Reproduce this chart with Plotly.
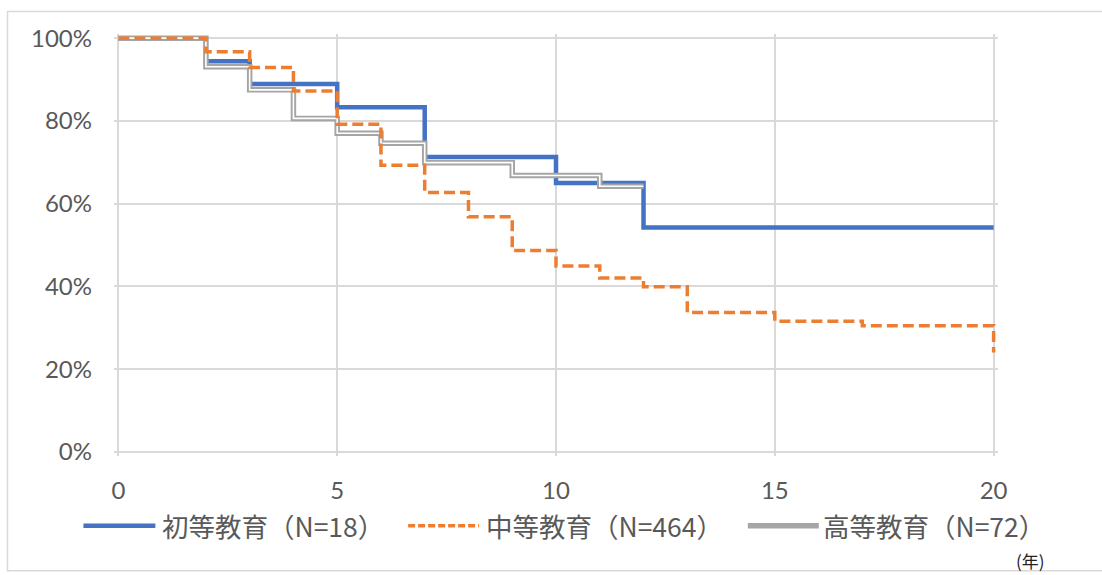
import plotly.graph_objects as go

# Survival curves by education level (step functions, percent)
primary_label = "初等教育（N=18）"
primary_years = [0, 2, 3, 5, 7, 10, 12, 20]
primary_surv = [100, 94.4, 88.9, 83.3, 71.3, 65.0, 54.2, 54.2]

secondary_label = "中等教育（N=464）"
secondary_years = [0, 2, 3, 4, 5, 6, 7, 8, 9, 10, 11, 12, 13, 15, 17, 20]
secondary_surv = [100, 96.7, 92.9, 87.2, 79.2, 69.3, 62.7, 56.8, 48.7, 44.9,
                  42.0, 39.9, 33.7, 31.6, 30.5, 24.0]

higher_label = "高等教育（N=72）"
higher_years = [0, 2, 3, 4, 5, 6, 7, 9, 11, 12]
higher_surv = [100, 93.1, 87.5, 80.6, 77.0, 74.6, 69.9, 66.8, 64.2, 64.2]

x_ticks = [0, 5, 10, 15, 20]
y_ticks = [0, 20, 40, 60, 80, 100]
y_tick_text = ["0%", "20%", "40%", "60%", "80%", "100%"]
unit_label = "(年)"

W, H = 1102, 575
# plot-area geometry in pixels
L, R, T, B = 113.6, 998.4, 33.9, 456.1


def px_x(px):
    return (px - L) / (R - L)


def px_y(py):
    return (B - py) / (B - T)


TICK_COLOR = "#595959"
GRID_COLOR = "#d9d9d9"
BLUE, ORANGE, GRAY = "#4472C4", "#ED7D31", "#A5A5A5"
ORANGE_DASH = "11px,5px"

fig = go.Figure()

fig.add_trace(go.Scatter(
    x=primary_years, y=primary_surv, name=primary_label, mode="lines",
    line=dict(color=BLUE, width=4.5, shape="hv"),
))
# higher education: double line (gray stroke with a white core)
fig.add_trace(go.Scatter(
    x=higher_years, y=higher_surv, name=higher_label, mode="lines",
    line=dict(color=GRAY, width=5.5, shape="hv"),
))
fig.add_trace(go.Scatter(
    x=higher_years, y=higher_surv, mode="lines", hoverinfo="skip",
    line=dict(color="#FFFFFF", width=1.6, shape="hv"),
))
fig.add_trace(go.Scatter(
    x=secondary_years, y=secondary_surv, name=secondary_label, mode="lines",
    line=dict(color=ORANGE, width=3.5, shape="hv", dash=ORANGE_DASH),
))

# legend row below the axis: sample line + label for each series
legend_y = 526
legend_items = [
    (primary_label, dict(color=BLUE, width=4.5), 83, 155, 160),
    (secondary_label, dict(color=ORANGE, width=3.5, dash="7px,3px"), 408, 479, 484),
    (higher_label, dict(color=GRAY, width=5.5), 748, 819, 821),
]
shapes = [
    dict(type="rect", xref="paper", yref="paper",
         x0=px_x(7), x1=px_x(1110), y0=px_y(11.5), y1=px_y(571),
         line=dict(color="#d9d9d9", width=1.5), fillcolor="rgba(0,0,0,0)",
         layer="below"),
]
annotations = []
for label, style, lx0, lx1, tx in legend_items:
    shapes.append(dict(type="line", xref="paper", yref="paper",
                       x0=px_x(lx0), x1=px_x(lx1),
                       y0=px_y(legend_y), y1=px_y(legend_y), line=style))
    annotations.append(dict(text=label, xref="paper", yref="paper",
                            x=px_x(tx), y=px_y(legend_y),
                            xanchor="left", yanchor="middle", showarrow=False,
                            font=dict(family="'Noto Sans CJK JP'", size=26.5,
                                      color=TICK_COLOR)))
annotations.append(dict(text=unit_label, xref="paper", yref="paper",
                        x=px_x(1031), y=px_y(561), xanchor="center",
                        yanchor="middle", showarrow=False,
                        font=dict(family="'Noto Sans CJK JP'", size=17,
                                  color="#222222")))

fig.update_layout(
    width=W, height=H,
    margin=dict(l=L, r=W - R, t=T, b=H - B, pad=0),
    paper_bgcolor="white", plot_bgcolor="white",
    font=dict(family="Lato, 'Noto Sans CJK JP'", color=TICK_COLOR),
    showlegend=False,
    xaxis=dict(
        range=[-0.1, 20.1], tickvals=x_ticks, showgrid=True,
        gridcolor=GRID_COLOR, gridwidth=1.5, zeroline=False,
        showline=False, ticks="", ticklabelstandoff=18,
        tickfont=dict(family="Lato", size=24, color=TICK_COLOR),
    ),
    yaxis=dict(
        range=[-1, 101], tickvals=y_ticks, ticktext=y_tick_text,
        showgrid=True, gridcolor=GRID_COLOR, gridwidth=1.5, zeroline=False,
        showline=False, ticks="", ticklabelstandoff=21,
        tickfont=dict(family="Lato", size=24, color=TICK_COLOR),
    ),
    shapes=shapes,
    annotations=annotations,
)

fig.write_html("out.html")
